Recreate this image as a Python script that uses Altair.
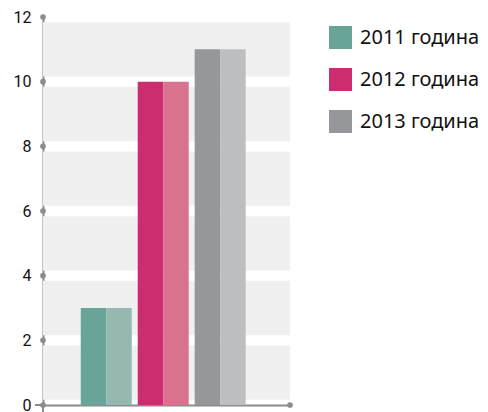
import altair as alt
import pandas as pd

years = ["2011 година", "2012 година", "2013 година"]
values = [3, 10, 11]
dark_colors = ["#68a598", "#cb2d6e", "#96979b"]
light_colors = ["#95b9b0", "#d8728f", "#bdbec0"]
tick_values = [0, 2, 4, 6, 8, 10, 12]
band_starts = [0, 2, 4, 6, 8, 10]

rows = []
for y, v in zip(years, values):
    rows.append({"year": y, "part": "a", "key": y, "value": v})
    rows.append({"year": y, "part": "b", "key": y + " ", "value": v})
bars_df = pd.DataFrame(rows)
key_domain = years + [y + " " for y in years]
key_range = dark_colors + light_colors

bands_df = pd.DataFrame({"lo": [b + 0.16 for b in band_starts],
                         "hi": [b + 1.84 for b in band_starts]})
ticks_df = pd.DataFrame({"t": tick_values})

W, H = 247, 388
axis_gray = "#8c8c90"

yscale = alt.Scale(domain=[0, 12], nice=False)

bands = alt.Chart(bands_df).mark_rect(color="#f0f0f0").encode(
    y=alt.Y("lo:Q", scale=yscale,
            axis=alt.Axis(values=tick_values, title=None, grid=False, ticks=False, tickSize=0,
                          labelPadding=12, labelFont="Roboto", labelFontSize=16,
                          labelColor="#111111", domainColor=axis_gray, domainWidth=2)),
    y2="hi:Q",
)

bars = alt.Chart(bars_df).mark_bar().encode(
    x=alt.X("year:N", sort=years,
            scale=alt.Scale(paddingInner=0.105, paddingOuter=0.72, align=0.46),
            axis=alt.Axis(labels=False, ticks=False, title=None, domainColor=axis_gray,
                          domainWidth=2)),
    xOffset=alt.XOffset("part:N", scale=alt.Scale(domain=["a", "b"], paddingInner=0, paddingOuter=0)),
    y=alt.Y("value:Q", scale=yscale),
    color=alt.Color("key:N", scale=alt.Scale(domain=key_domain, range=key_range),
                    legend=alt.Legend(values=years, title=None, orient="none", legendX=286,
                                      legendY=9, symbolType="square", symbolSize=529,
                                      symbolStrokeWidth=0, symbolOpacity=1, labelFont="Noto Sans",
                                      labelFontSize=20, labelColor="#111111", labelOffset=8,
                                      rowPadding=19, padding=0, labelLimit=300)),
)

dots = alt.Chart(ticks_df).mark_circle(color=axis_gray, opacity=1, size=32).encode(
    x=alt.value(0),
    y=alt.Y("t:Q", scale=yscale),
)

end_dot = alt.Chart(pd.DataFrame({"t": [0]})).mark_circle(color=axis_gray, opacity=1, size=32).encode(
    x=alt.value(W),
    y=alt.Y("t:Q", scale=yscale),
)

left_stub = alt.Chart(pd.DataFrame({"t": [0]})).mark_rule(color=axis_gray, strokeWidth=2).encode(
    x=alt.value(-8), x2=alt.value(0),
    y=alt.Y("t:Q", scale=yscale),
)

down_stub = alt.Chart(pd.DataFrame({"t": [0]})).mark_rule(color=axis_gray, strokeWidth=2).encode(
    x=alt.value(0),
    y=alt.value(H), y2=alt.value(H + 8),
)

chart = alt.layer(bands, bars, left_stub, down_stub, dots, end_dot).properties(
    width=W, height=H,
    autosize=alt.AutoSizeParams(type="none"),
    padding={"left": 35, "top": 9, "right": 190, "bottom": 8},
).configure_view(stroke=None)

chart.save("out.html", embed_options={"renderer": "svg", "actions": False})
